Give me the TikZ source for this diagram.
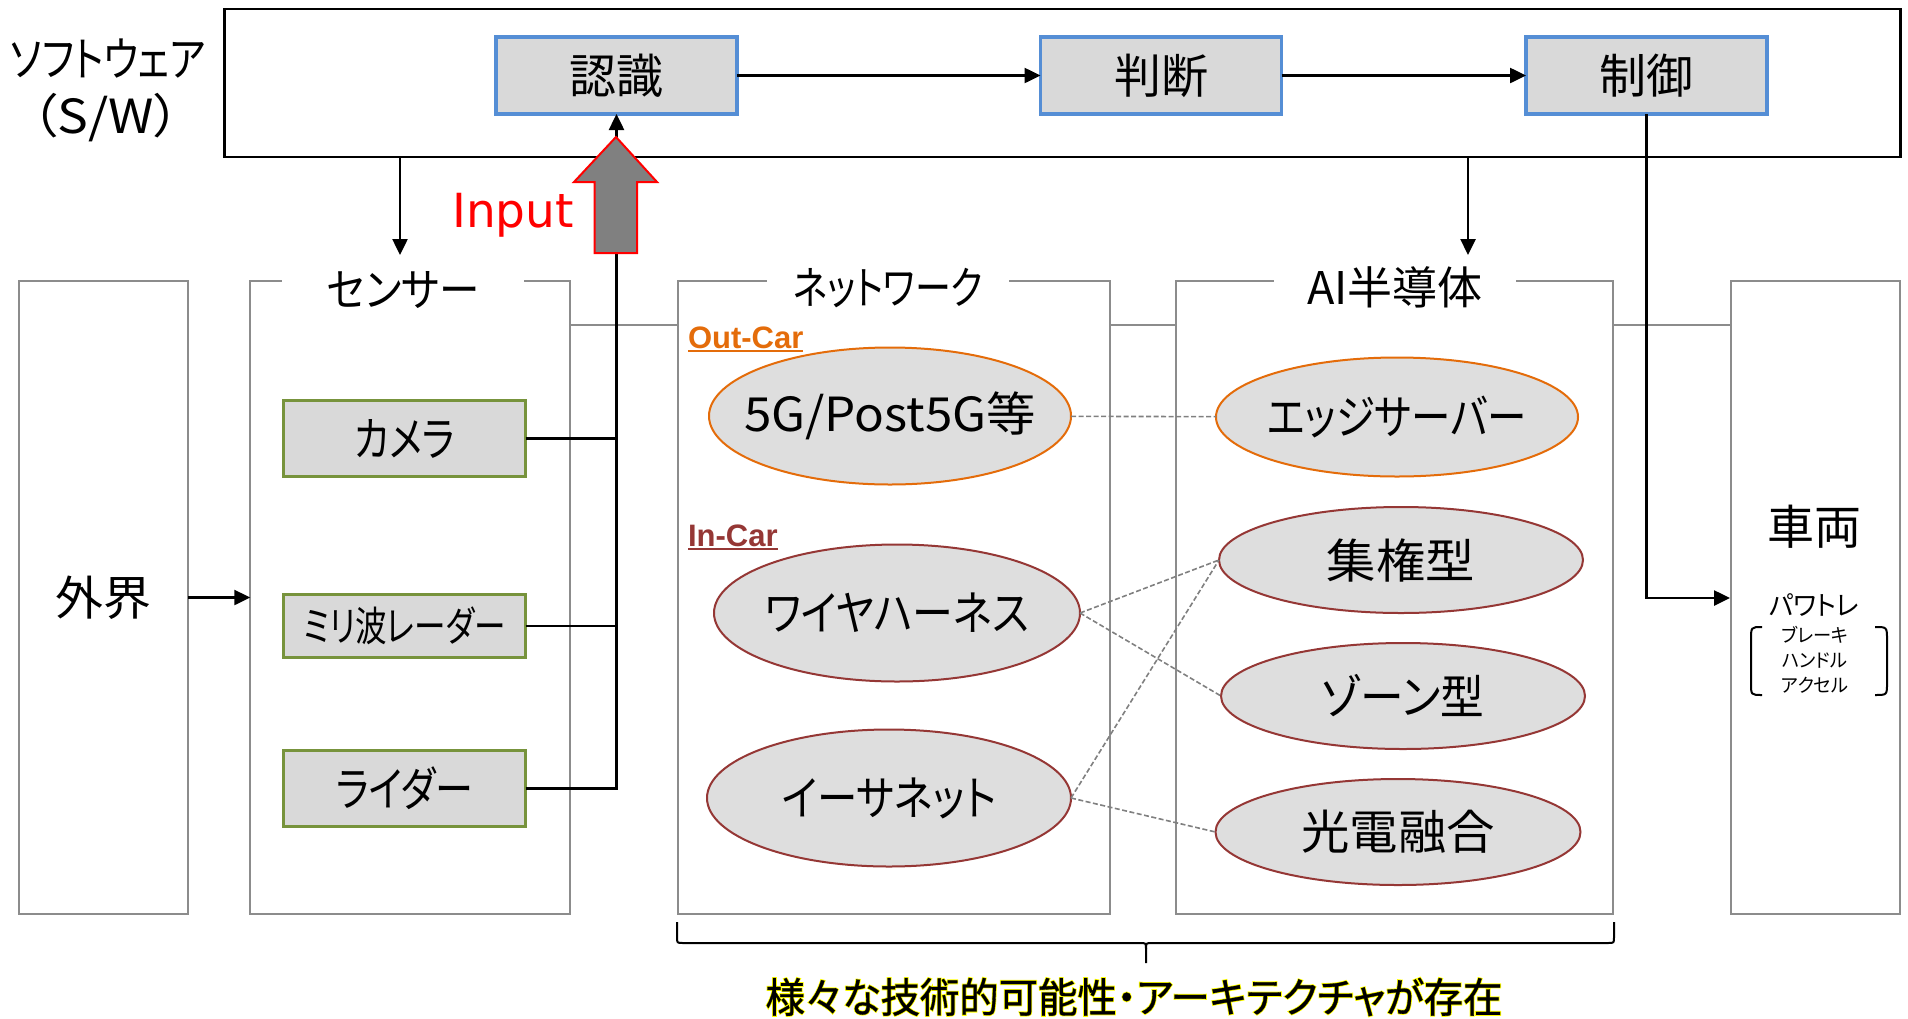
\documentclass[tikz,border=0pt]{standalone}
\usepackage{fontspec}
\usepackage{graphicx}
\setmainfont{Noto Sans CJK JP}[RawFeature=+palt]
\newfontfamily\glowfont{Noto Sans CJK JP}[RawFeature=+palt, FakeBold=5]
\newfontfamily\notefont{Noto Sans CJK JP}[RawFeature=+palt, FakeBold=0.8]
\newfontfamily\inputfont{DejaVu Sans}
\newfontfamily\tagfont{Liberation Sans}
\usetikzlibrary{arrows.meta,shapes.geometric,calc}

\definecolor{boxgray}{RGB}{217,217,217}
\definecolor{ellgray}{RGB}{222,222,222}
\definecolor{swblue}{RGB}{85,142,213}
\definecolor{sensgreen}{RGB}{119,147,60}
\definecolor{framegray}{RGB}{140,140,140}
\definecolor{outorange}{RGB}{228,108,10}
\definecolor{incarred}{RGB}{149,55,53}
\definecolor{linkgray}{RGB}{128,128,128}
\definecolor{arrowgray}{RGB}{128,128,128}
\definecolor{glowyellow}{RGB}{255,255,0}

\newcommand{\fsz}[1]{\fontsize{#1pt}{#1pt}\selectfont}
% horizontal squeeze / stretch of a label
\newcommand{\hs}[2]{\scalebox{#1}[1]{#2}}

\tikzset{
  every node/.style={inner sep=0pt, outer sep=0pt},
  procbox/.style={draw=swblue, line width=3.5pt, fill=boxgray,
    minimum width=241pt, minimum height=77pt, font=\fsz{47}},
  outerbox/.style={draw=framegray, line width=2pt, fill=white, minimum height=633pt},
  titlelab/.style={fill=white, minimum width=242pt, minimum height=40pt, font=\fsz{45}},
  sensbox/.style={draw=sensgreen, line width=3pt, fill=boxgray, minimum width=242pt},
  netell/.style={ellipse, fill=ellgray, line width=2pt},
  elltext/.style={font=\fsz{47}},
  arr/.style={line width=2.5pt, -{Triangle[length=16pt,width=15pt]}},
  wire/.style={line width=2.5pt},
  link/.style={draw=linkgray, line width=1.6pt, dash pattern=on 5pt off 2.5pt},
  busline/.style={draw=framegray, line width=2pt},
  cartag/.style={font=\tagfont\bfseries\fsz{31}, anchor=south west},
}

\begin{document}
\begin{tikzpicture}[x=1pt,y=-1pt]
\useasboundingbox (0,0) rectangle (1908,1018);

% software layer
\node[draw=black, line width=2.5pt, minimum width=1676pt, minimum height=148pt] (sw) at (1062.5,83) {};
\node[font=\fsz{47}] (swlab) at (108,59) {\hs{0.82}{ソフトウェア}};
\node[font=\fsz{47}] (swlabb) at (106,118) {\hs{1.1}{（S/W）}};
\node[procbox] (rec) at (616.5,75.5) {認識};
\node[procbox] (jud) at (1161,75.5) {判断};
\node[procbox] (ctl) at (1646.5,75.5) {制御};

% lower columns
\node[outerbox, minimum width=169pt, font=\fsz{47}] (ext) at (103.5,597.5) {\hs{1.02}{外界}};
\node[outerbox, minimum width=319.5pt] (sens) at (410,597.5) {};
\node[outerbox, minimum width=432pt] (net) at (894,597.5) {};
\node[outerbox, minimum width=437pt] (ai) at (1394.5,597.5) {};
\node[outerbox, minimum width=169pt] (veh) at (1815.5,597.5) {};

\node[titlelab] (senst) at (403,290) {\hs{0.9}{センサー}};
\node[titlelab] (netst) at (888,288) {\hs{0.8}{ネットワーク}};
\node[titlelab] (aist) at (1395,287) {AI半導体};

% connecting rail between the columns
\coordinate (bus) at (0,325);
\draw[busline] (sens.east |- bus) -- (net.west |- bus);
\draw[busline] (net.east |- bus) -- (ai.west |- bus);
\draw[busline] (ai.east |- bus) -- (veh.west |- bus);

% sensors
\node[sensbox, minimum height=76.5pt, font=\fsz{47}] (cam) at (404.5,438.5) {\hs{0.8}{カメラ}};
\node[sensbox, minimum height=63pt, font=\fsz{41}] (mmw) at (404.5,626) {\hs{0.77}{ミリ波レーダー}};
\node[sensbox, minimum height=76pt, font=\fsz{47}] (lid) at (404.5,788.5) {\hs{0.81}{ライダー}};

% network options
\node[cartag, text=outorange] (oc) at (688,349) {Out-Car};
\draw[outorange, line width=1.5pt] ([yshift=-2pt]oc.south west) -- ([yshift=-2pt]oc.south east);
\node[cartag, text=incarred] (ic) at (688,547) {In-Car};
\draw[incarred, line width=1.5pt] ([yshift=-2pt]ic.south west) -- ([yshift=-2pt]ic.south east);

\node[netell, draw=outorange, minimum width=362pt, minimum height=137pt,
  label={[elltext]center:\hs{1.05}{5G/Post5G等}}] (g5) at (890,416) {};
\node[netell, draw=incarred, minimum width=366pt, minimum height=137pt,
  label={[elltext]center:\hs{0.87}{ワイヤハーネス}}] (wh) at (897,613) {};
\node[netell, draw=incarred, minimum width=364pt, minimum height=137pt,
  label={[elltext]center:\hs{0.86}{イーサネット}}] (eth) at (889,798) {};

% AI semiconductor options
\node[netell, draw=outorange, minimum width=362pt, minimum height=119pt,
  label={[elltext]center:\hs{0.84}{エッジサーバー}}] (edge) at (1397,417) {};
\node[netell, draw=incarred, minimum width=364pt, minimum height=106pt,
  label={[elltext]center:\hs{1.05}{集権型}}] (cen) at (1401,560) {};
\node[netell, draw=incarred, minimum width=364pt, minimum height=106pt,
  label={[elltext]center:\hs{0.93}{ゾーン型}}] (zone) at (1403,696) {};
\node[netell, draw=incarred, minimum width=365pt, minimum height=106pt,
  label={[elltext]center:\hs{1.03}{光電融合}}] (opto) at (1398,832) {};

\draw[link] (g5) -- (edge);
\draw[link] (wh.east) -- (cen.west);
\draw[link] (wh.east) -- (zone.west);
\draw[link] (eth.east) -- (cen.west);
\draw[link] (eth.east) -- (opto.west);

% vehicle
\node[font=\fsz{47}] (vehlab) at (1814,527) {車両};
\node[font=\fsz{27}] (ptr) at (1814,605) {\hs{0.96}{パワトレ}};
\node[font=\fontsize{19pt}{25pt}\selectfont, align=center] (ctrls) at (1815,660) {\hs{0.96}{ブレーキ}\\\hs{0.96}{ハンドル}\\\hs{0.96}{アクセル}};
\draw[line width=2pt] (1762,627) .. controls (1751,627) .. (1751,640) -- (1751,683) .. controls (1751,695) .. (1762,695);
\draw[line width=2pt] (1875,627) .. controls (1887,627) .. (1887,640) -- (1887,683) .. controls (1887,695) .. (1875,695);

% flow connectors
\draw[arr] (rec) -- (jud);
\draw[arr] (jud) -- (ctl);
\coordinate (sensin) at (400,255);
\draw[arr] (sw.south -| sensin) -- (sensin);
\coordinate (aiin) at (1468,255);
\draw[arr] (sw.south -| aiin) -- (aiin);
\coordinate (vehin) at (1730,598);
\draw[arr] (ctl.south) |- (vehin);
\draw[arr] (ext) -- (sens);
\draw[wire] (cam.east) -- (cam.east -| rec.south);
\draw[wire] (mmw.east) -- (mmw.east -| rec.south);
\draw[arr] (lid.east) -| (rec.south);

% input block arrow
\draw[draw=red, fill=arrowgray, line width=2pt, line join=miter]
  (594.5,253) -- (594.5,182) -- (574,182) -- (616,137) -- (657,182) -- (637,182) -- (637,253) -- cycle;
\node[font=\inputfont\fsz{47}, text=red, anchor=base] (inp) at (513,227) {Input};

% brace under network and AI columns
\draw[line width=2pt] (677,922) -- (677,937) .. controls (677,943) .. (683,943) -- (1140,943)
  .. controls (1146,943) .. (1146,949) -- (1146,963);
\draw[line width=2pt] (1614,922) -- (1614,937) .. controls (1614,943) .. (1608,943) -- (1152,943)
  .. controls (1146,943) .. (1146,949);

% summary line with a yellow halo behind it
\node[font=\glowfont\fsz{41}, text=glowyellow] (noteglow) at (1134,997) {\hs{0.96}{様々な技術的可能性・アーキテクチャが存在}};
\node[font=\notefont\fsz{41}] (note) at (noteglow) {\hs{0.96}{様々な技術的可能性・アーキテクチャが存在}};
\end{tikzpicture}
\end{document}
